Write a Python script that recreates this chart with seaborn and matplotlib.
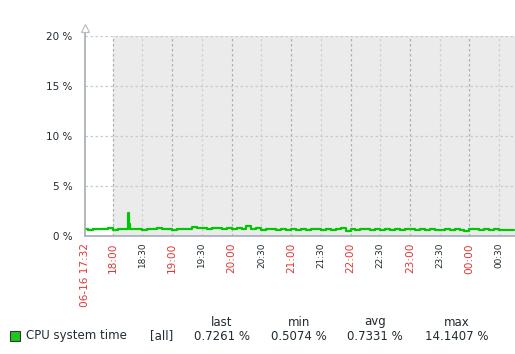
import matplotlib
matplotlib.use("Agg")
import matplotlib.pyplot as plt
from matplotlib.patches import Rectangle
import seaborn as sns
import pandas as pd

# === Datos ===
# minutos desde las 17:30 del 06-16
minutos = [0, 5, 10, 15, 20, 25, 30, 35, 40, 44, 45, 46, 47, 50, 55,
           60, 65, 70, 75, 80, 85, 90, 95, 100, 105, 110, 115, 120, 125,
           130, 135, 140, 145, 150, 155, 160, 165, 170, 175, 180, 185,
           190, 195, 200, 205, 210, 215, 220, 225, 230, 235, 240, 245,
           250, 255, 260, 265, 270, 275, 280, 285, 290, 295, 300, 305,
           310, 315, 320, 325, 330, 335, 340, 345, 350, 355, 360, 365,
           370, 375, 380, 385, 390, 395, 400, 405, 410, 415, 420, 425,
           430, 435]
cpu_system = [0.70, 0.62, 0.68, 0.72, 0.70, 0.78, 0.60, 0.66, 0.72, 0.75,
              2.35, 1.20, 0.72, 0.70, 0.68,
              0.62, 0.75, 0.68, 0.85, 0.70, 0.72, 0.62, 0.70, 0.72, 0.70,
              0.88, 0.76, 0.80, 0.72, 0.85, 0.78, 0.70, 0.82, 0.72, 0.80,
              0.70, 1.05, 0.68, 0.78, 0.62, 0.66, 0.72, 0.60, 0.70, 0.62,
              0.68, 0.65, 0.74, 0.60, 0.66, 0.70, 0.62, 0.72, 0.60, 0.66,
              0.78, 0.52, 0.68, 0.60, 0.66, 0.70, 0.62, 0.72, 0.60, 0.68,
              0.62, 0.70, 0.64, 0.66, 0.72, 0.60, 0.68, 0.62, 0.70, 0.64,
              0.60, 0.66, 0.62, 0.70, 0.60, 0.52, 0.66, 0.70, 0.62, 0.66,
              0.60, 0.68, 0.62, 0.64, 0.60, 0.63]

tick_min = [2, 30, 60, 90, 120, 150, 180, 210, 240, 270, 300, 330, 360,
            390, 420]
tick_labels = ["06-16 17:32", "18:00", "18:30", "19:00", "19:30", "20:00",
               "20:30", "21:00", "21:30", "22:00", "22:30", "23:00",
               "23:30", "00:00", "00:30"]
y_ticks = [0, 5, 10, 15, 20]

leyenda_nombre = "CPU system time"
leyenda_cols = ["last", "min", "avg", "max"]
leyenda_vals = ["0.7261 %", "0.5074 %", "0.7331 %", "14.1407 %"]

# === Estilo ===
sns.set_style("white")
plt.rcParams["font.family"] = ["DejaVu Sans"]

VERDE = "#00c800"
ROJO = "#e33734"
TEXTO = "#1f2c33"
EJE = "#a3acb3"

W, H = 515, 354
fig = plt.figure(figsize=(W / 100, H / 100), dpi=100)
ax = fig.add_axes([85 / W, (H - 236) / H, 430 / W, 200 / H])

df = pd.DataFrame({"minuto": minutos, "valor": cpu_system})

xmin, xmax = 2, 436
ax.set_xlim(xmin, xmax)
ax.set_ylim(0, 20)

# zona gris a partir de las 18:00
ax.axvspan(30, xmax, color="#ebebeb", zorder=0, lw=0)

# rejilla
for t in tick_min[1:]:
    es_hora = t % 60 == 30
    ax.axvline(t, color="#a6b1b8" if es_hora else "#cad2d6",
               lw=0.9, ls=(0, (2, 2)), zorder=1)
for y in y_ticks[1:]:
    ax.axhline(y, color="#c3ccd1", lw=0.9, ls=(0, (2, 2)), zorder=1)

sns.lineplot(data=df, x="minuto", y="valor", ax=ax, color=VERDE, lw=1.6,
             drawstyle="steps-post", zorder=3)

# ejes
for s in ["top", "right", "left"]:
    ax.spines[s].set_visible(False)
ax.spines["bottom"].set_color(EJE)
ax.spines["bottom"].set_linewidth(1.2)
ax.plot([0, 0], [0, 1.04], transform=ax.transAxes, color=EJE, lw=1.2,
        clip_on=False, zorder=4)
ax.plot([0], [1.04], transform=ax.transAxes, marker="^", ms=6,
        mfc="white", mec="#b8c0c6", mew=0.9, clip_on=False, zorder=5)

ax.set_xlabel("")
ax.set_ylabel("")
ax.set_yticks(y_ticks)
ax.set_yticklabels([f"{v} %" for v in y_ticks], fontsize=7.5, color=TEXTO)
ax.tick_params(axis="y", length=0, pad=9)

ax.set_xticks(tick_min)
ax.set_xticklabels(tick_labels, rotation=90, va="top", ha="center")
ax.tick_params(axis="x", length=0, pad=5)
for lbl, t in zip(ax.get_xticklabels(), tick_min):
    if t % 60 == 30 or t == 2:
        lbl.set_color(ROJO)
        lbl.set_fontsize(7.6)
    else:
        lbl.set_color(TEXTO)
        lbl.set_fontsize(6.4)

# === Leyenda ===
fy = lambda py: (H - py) / H
fig.add_artist(Rectangle((10 / W, fy(341)), 10 / W, 10 / H,
                         transform=fig.transFigure, facecolor="#22c322",
                         edgecolor="#2d3a2d", lw=0.8))
fig.text(26 / W, fy(336), leyenda_nombre, fontsize=8.5, color=TEXTO,
         va="center", ha="left")
fig.text(150 / W, fy(336), "[all]", fontsize=8.5, color=TEXTO,
         va="center", ha="left")
for cx, col, val in zip([222, 299, 375, 457], leyenda_cols, leyenda_vals):
    fig.text(cx / W, fy(322), col, fontsize=8.5, color=TEXTO,
             va="center", ha="center")
    fig.text(cx / W, fy(336), val, fontsize=8.5, color=TEXTO,
             va="center", ha="center")

fig.savefig("out.png", dpi=100)
